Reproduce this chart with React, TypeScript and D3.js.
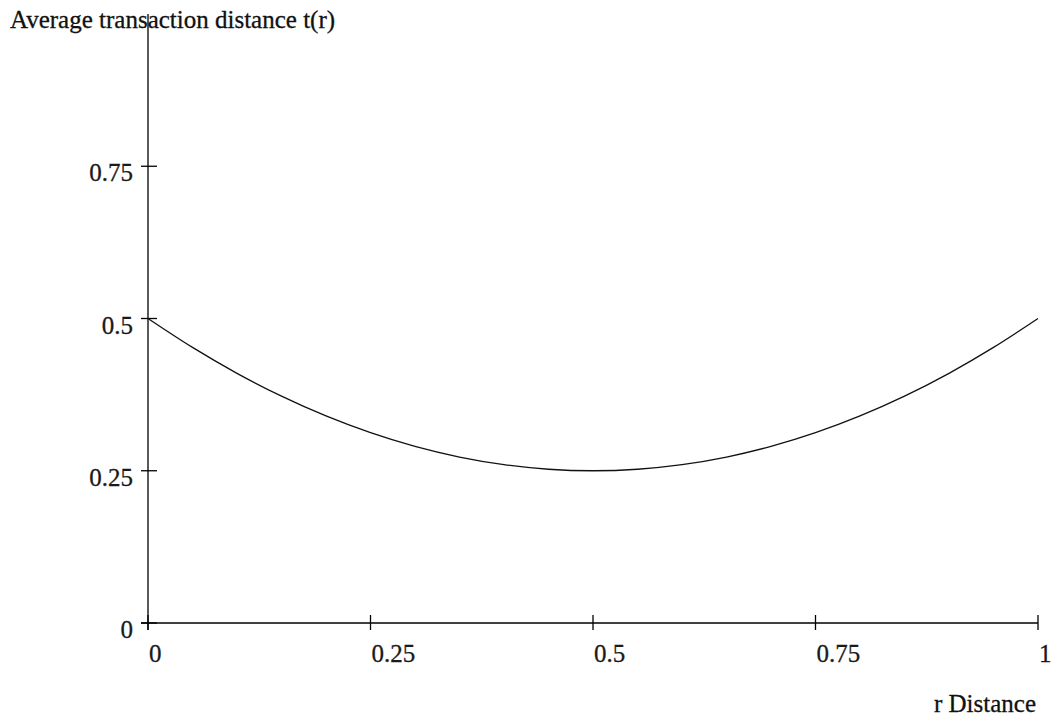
import { useRef, useEffect } from 'react';
import * as d3 from 'd3';

const W = 1053;
const H = 717;

// r values and t(r)
const rValues = [0, 0.05, 0.1, 0.15, 0.2, 0.25, 0.3, 0.35, 0.4, 0.45, 0.5, 0.55, 0.6, 0.65, 0.7, 0.75, 0.8, 0.85, 0.9, 0.95, 1];
const tValues = [0.5, 0.4525, 0.41, 0.3725, 0.34, 0.3125, 0.29, 0.2725, 0.26, 0.2525, 0.25, 0.2525, 0.26, 0.2725, 0.29, 0.3125, 0.34, 0.3725, 0.41, 0.4525, 0.5];

const xTicks = [0, 0.25, 0.5, 0.75, 1];
const xTickLabels = ['0', '0.25', '0.5', '0.75', '1'];
const yTicks = [0, 0.25, 0.5, 0.75];
const yTickLabels = ['0', '0.25', '0.5', '0.75'];

const FONT = '"Liberation Serif", "Times New Roman", serif';
const FS = 25;

export default function App() {
  const svgRef = useRef<SVGSVGElement>(null);

  useEffect(() => {
    const svg = d3.select(svgRef.current);
    svg.selectAll('*').remove();

    const x = d3.scaleLinear().domain([0, 1]).range([148, 1038]);
    const y = d3.scaleLinear().domain([0, 1]).range([623, 14]);

    // axes lines
    svg.append('line').attr('x1', x(0)).attr('x2', x(0))
      .attr('y1', y(1)).attr('y2', y(0) + 7)
      .attr('stroke', '#000').attr('stroke-width', 1.3);
    svg.append('line').attr('x1', x(0) - 7).attr('x2', x(1))
      .attr('y1', y(0)).attr('y2', y(0))
      .attr('stroke', '#000').attr('stroke-width', 1.3);

    // x ticks, labels start at the tick
    xTicks.forEach((t, i) => {
      svg.append('line').attr('x1', x(t)).attr('x2', x(t))
        .attr('y1', y(0) - 8).attr('y2', y(0) + 7)
        .attr('stroke', '#000').attr('stroke-width', 1.3);
      svg.append('text').attr('x', x(t) + 1).attr('y', y(0) + 39)
        .attr('text-anchor', 'start').attr('font-family', FONT)
        .attr('font-size', FS).attr('fill', '#1a1a1a')
        .attr('stroke', '#1a1a1a').attr('stroke-width', 0.3)
        .text(xTickLabels[i]);
    });

    // y ticks
    yTicks.forEach((t, i) => {
      svg.append('line').attr('x1', x(0) - 7).attr('x2', x(0) + 9)
        .attr('y1', y(t)).attr('y2', y(t))
        .attr('stroke', '#000').attr('stroke-width', 1.3);
      svg.append('text').attr('x', 133).attr('y', y(t) + 15)
        .attr('text-anchor', 'end').attr('font-family', FONT)
        .attr('font-size', FS).attr('fill', '#1a1a1a')
        .attr('stroke', '#1a1a1a').attr('stroke-width', 0.3)
        .text(yTickLabels[i]);
    });

    // curve
    const pts = rValues.map((r, i) => [r, tValues[i]] as [number, number]);
    const line = d3.line<[number, number]>()
      .x(d => x(d[0])).y(d => y(d[1]))
      .curve(d3.curveMonotoneX);
    svg.append('path').attr('d', line(pts))
      .attr('fill', 'none').attr('stroke', '#111').attr('stroke-width', 1.3);

    // labels
    svg.append('text').attr('x', 10).attr('y', 28)
      .attr('font-family', FONT).attr('font-size', FS).attr('fill', '#111')
      .attr('stroke', '#111').attr('stroke-width', 0.3)
      .text('Average transaction distance t(r)');
    svg.append('text').attr('x', 1036).attr('y', 712)
      .attr('text-anchor', 'end').attr('font-family', FONT)
      .attr('font-size', FS).attr('fill', '#111')
      .attr('stroke', '#111').attr('stroke-width', 0.3)
      .text('r Distance');
  }, []);

  return (
    <svg ref={svgRef} width={W} height={H}
      style={{ position: 'absolute', left: 0, top: 0, background: '#fff' }} />
  );
}
